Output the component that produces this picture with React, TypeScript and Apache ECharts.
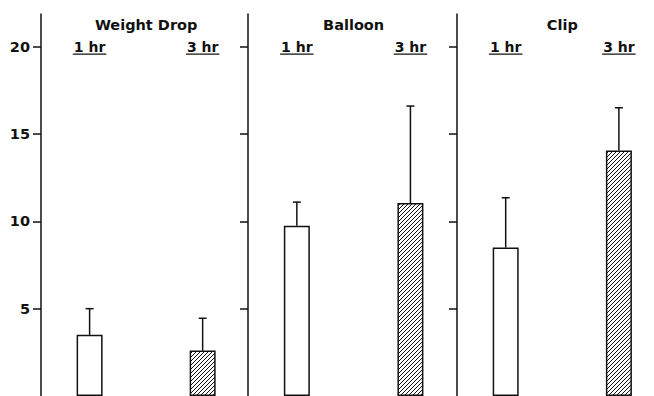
import React, { useEffect, useRef } from "react";
import * as echarts from "echarts";

// ---- data ----
const panels = ["Weight Drop", "Balloon", "Clip"];
const times = ["1 hr", "3 hr"];
const means1hr = [3.5, 9.75, 8.5];
const means3hr = [2.6, 11.05, 14.05];
const upper1hr = [5.0, 11.1, 11.35];
const upper3hr = [4.45, 16.6, 16.5];
const yTicks = [5, 10, 15, 20];
const yMax = 21.87;

const FONT = '"DejaVu Sans", sans-serif';
const INK = "#111";

function makeHatch(): HTMLCanvasElement {
  const c = document.createElement("canvas");
  const s = 4;
  c.width = s;
  c.height = s;
  const ctx = c.getContext("2d")!;
  ctx.fillStyle = "#fff";
  ctx.fillRect(0, 0, s, s);
  ctx.strokeStyle = "#111";
  ctx.lineWidth = 1;
  ctx.beginPath();
  ctx.moveTo(0, s);
  ctx.lineTo(s, 0);
  ctx.moveTo(-1, 1);
  ctx.lineTo(1, -1);
  ctx.moveTo(s - 1, s + 1);
  ctx.lineTo(s + 1, s - 1);
  ctx.stroke();
  return c;
}

function textWidth(text: string, font: string): number {
  const c = document.createElement("canvas");
  const ctx = c.getContext("2d")!;
  ctx.font = font;
  return ctx.measureText(text).width;
}

export default function App() {
  const ref = useRef<HTMLDivElement>(null);

  useEffect(() => {
    document.body.style.margin = "0";
    if (!ref.current) return;
    const chart = echarts.init(ref.current, undefined, { renderer: "svg" });
    const hatch = makeHatch();

    const gridDefs = [
      { left: 41, width: 208, xmax: 1.41 },
      { left: 248, width: 209, xmax: 1.41 },
      { left: 457, width: 197, xmax: 1.31 },
    ];

    const grids = gridDefs.map((g) => ({
      left: g.left,
      width: g.width,
      top: 14,
      height: 386,
    }));

    const xAxes = gridDefs.map((g, i) => ({
      type: "value" as const,
      gridIndex: i,
      min: -0.43,
      max: g.xmax,
      show: false,
    }));

    const yAxes = gridDefs.map((g, i) => ({
      type: "value" as const,
      gridIndex: i,
      position: "left" as const,
      min: 0,
      max: yMax,
      axisLine: { show: true, onZero: false, lineStyle: { color: INK, width: 1.5 } },
      axisTick: {
        show: true,
        length: 8,
        customValues: yTicks,
        lineStyle: { color: INK, width: 1.5 },
      },
      axisLabel: {
        show: i === 0,
        customValues: yTicks,
        margin: 11,
        color: INK,
        fontFamily: FONT,
        fontWeight: "bold" as const,
        fontSize: 14.5,
      },
      splitLine: { show: false },
    }));

    const hrFont = `bold 14px ${FONT}`;
    const titleFont = `bold 14.5px ${FONT}`;

    const series: any[] = [];
    panels.forEach((name, i) => {
      series.push({
        type: "bar",
        xAxisIndex: i,
        yAxisIndex: i,
        barWidth: 26,
        data: [
          {
            value: [0, means1hr[i]],
            itemStyle: { color: "#fff", borderColor: INK, borderWidth: 1.5 },
          },
          {
            value: [1, means3hr[i]],
            itemStyle: {
              color: { image: hatch, repeat: "repeat" },
              borderColor: INK,
              borderWidth: 1.5,
            },
          },
        ],
      });
      series.push({
        type: "custom",
        xAxisIndex: i,
        yAxisIndex: i,
        z: 5,
        data: [
          [0, means1hr[i], upper1hr[i]],
          [1, means3hr[i], upper3hr[i]],
        ],
        renderItem: (params: any, api: any) => {
          const x = api.value(0);
          const b = api.coord([x, api.value(1)]);
          const t = api.coord([x, api.value(2)]);
          const st = { stroke: INK, lineWidth: 1.5 };
          return {
            type: "group",
            children: [
              { type: "line", shape: { x1: b[0], y1: b[1], x2: t[0], y2: t[1] }, style: st },
              { type: "line", shape: { x1: t[0] - 4, y1: t[1], x2: t[0] + 4, y2: t[1] }, style: st },
            ],
          };
        },
      });
      // sub headers (1 hr / 3 hr) with underline
      series.push({
        type: "custom",
        xAxisIndex: i,
        yAxisIndex: i,
        z: 5,
        data: [[0, 20], [1, 20]],
        renderItem: (params: any, api: any) => {
          const p = api.coord([api.value(0), api.value(1)]);
          const label = times[params.dataIndex];
          const w = textWidth(label, hrFont);
          return {
            type: "group",
            children: [
              {
                type: "text",
                x: p[0],
                y: p[1],
                style: {
                  text: label,
                  fill: INK,
                  font: hrFont,
                  align: "center",
                  verticalAlign: "middle",
                },
              },
              {
                type: "line",
                shape: { x1: p[0] - w / 2 - 1, y1: p[1] + 7.5, x2: p[0] + w / 2 + 1, y2: p[1] + 7.5 },
                style: { stroke: INK, lineWidth: 1.3 },
              },
            ],
          };
        },
      });
      // panel title
      series.push({
        type: "custom",
        xAxisIndex: i,
        yAxisIndex: i,
        z: 5,
        data: [[0.5, 21.25]],
        renderItem: (params: any, api: any) => {
          const p = api.coord([api.value(0), api.value(1)]);
          return {
            type: "text",
            x: p[0],
            y: p[1],
            style: {
              text: name,
              fill: INK,
              font: titleFont,
              align: "center",
              verticalAlign: "middle",
            },
          };
        },
      });
    });

    chart.setOption({
      animation: false,
      backgroundColor: "#fff",
      grid: grids,
      xAxis: xAxes,
      yAxis: yAxes,
      series,
    });

    return () => chart.dispose();
  }, []);

  return <div ref={ref} style={{ width: 654, height: 396 }} />;
}
